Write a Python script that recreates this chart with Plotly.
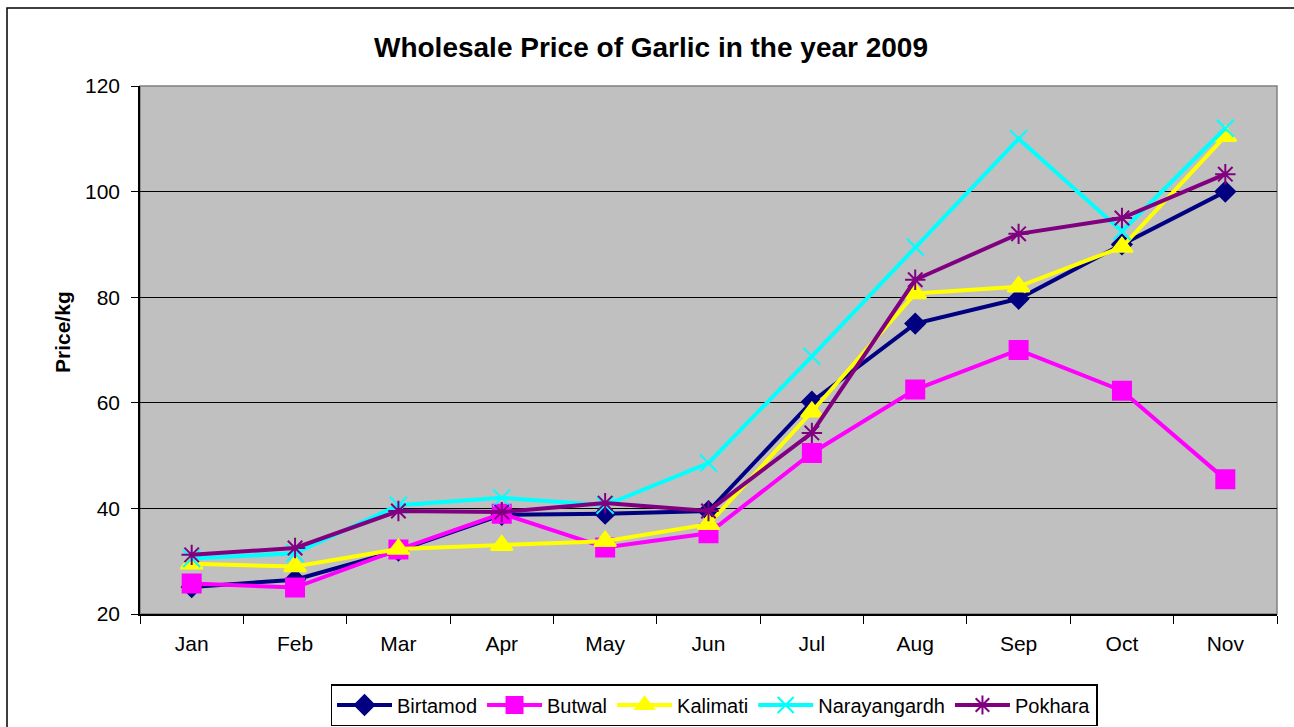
import plotly.graph_objects as go

months = ["Jan", "Feb", "Mar", "Apr", "May", "Jun", "Jul", "Aug", "Sep", "Oct", "Nov"]
birtamod = [25.1, 26.5, 32.0, 38.8, 39.0, 39.5, 60.2, 75.0, 79.7, 90.0, 100.0]
butwal = [25.8, 25.0, 32.2, 39.0, 32.6, 35.3, 50.5, 62.5, 70.0, 62.3, 45.5]
kalimati = [29.5, 29.0, 32.3, 33.0, 33.8, 37.0, 58.3, 80.7, 82.0, 89.5, 110.5]
narayangardh = [30.5, 31.5, 40.6, 42.0, 40.6, 48.6, 68.8, 89.5, 110.0, 92.5, 112.0]
pokhara = [31.2, 32.5, 39.5, 39.3, 41.0, 39.5, 54.3, 83.3, 92.0, 95.0, 103.3]

series = [
    ("Birtamod", birtamod, "#000080", "diamond", 15),
    ("Butwal", butwal, "#FF00FF", "square", 18),
    ("Kalimati", kalimati, "#FFFF00", "triangle-up", 19),
    ("Narayangardh", narayangardh, "#00FFFF", "x-thin-open", 17),
    ("Pokhara", pokhara, "#800080", "asterisk-open", 17),
]

fig = go.Figure()
for name, vals, color, sym, size in series:
    fig.add_trace(go.Scatter(
        x=months, y=vals, name=name, mode="lines+markers",
        line=dict(color=color, width=4),
        marker=dict(symbol=sym, size=size, color=color,
                    line=dict(color=color, width=2)),
    ))

W, H = 1294, 727
L, R, T, B = 140, 17, 86, 113
pw, ph = W - L - R, H - T - B

fig.update_layout(
    width=W, height=H,
    paper_bgcolor="white", plot_bgcolor="#C0C0C0",
    margin=dict(l=L, r=R, t=T, b=B, autoexpand=False),
    font=dict(family="Arial, Liberation Sans, sans-serif", size=21, color="black"),
    title=dict(text="<b>Wholesale Price of Garlic in the year 2009</b>",
               x=(651 - L) / pw, xref="paper", xanchor="center",
               y=1 - 47 / H, yanchor="middle",
               font=dict(size=28)),
    showlegend=True,
    legend=dict(orientation="h", x=(714 - L) / pw, xanchor="center",
                y=-(684 - (T + ph)) / ph, yanchor="top",
                bordercolor="black", borderwidth=1.5, bgcolor="white",
                font=dict(size=20), tracegroupgap=0, itemwidth=55),
    shapes=[
        dict(type="rect", xref="paper", yref="paper",
             x0=-(L - 7) / pw, x1=1.2, y0=-0.5, y1=1 + (T - 8) / ph,
             line=dict(color="black", width=1.5), layer="below"),
        dict(type="rect", xref="paper", yref="paper", x0=0, x1=1, y0=0, y1=1,
             line=dict(color="#808080", width=1.5), layer="below"),
    ],
    annotations=[dict(text="<b>Price/kg</b>", xref="paper", yref="paper",
                      x=(62 - L) / pw, y=(T + ph - 332) / ph, textangle=-90,
                      showarrow=False, xanchor="center", yanchor="middle",
                      font=dict(size=21))],
)
fig.update_xaxes(type="category", tickson="boundaries", ticks="outside", ticklen=8,
                 tickcolor="black", showline=True, linecolor="black", linewidth=1.5,
                 showgrid=False, range=[-0.5, 10.5], automargin=False,
                 tickfont=dict(size=21), ticklabelstandoff=10)
fig.update_yaxes(range=[20, 120], dtick=20, ticks="outside", ticklen=7, tickcolor="black",
                 showline=True, linecolor="black", linewidth=1.5,
                 showgrid=True, gridcolor="black", gridwidth=1, zeroline=False,
                 automargin=False, tickfont=dict(size=21), ticklabelstandoff=7)

fig.write_html("out.html", config={"displayModeBar": False},
               post_script="document.body.style.margin='0';document.body.style.overflow='hidden';")
